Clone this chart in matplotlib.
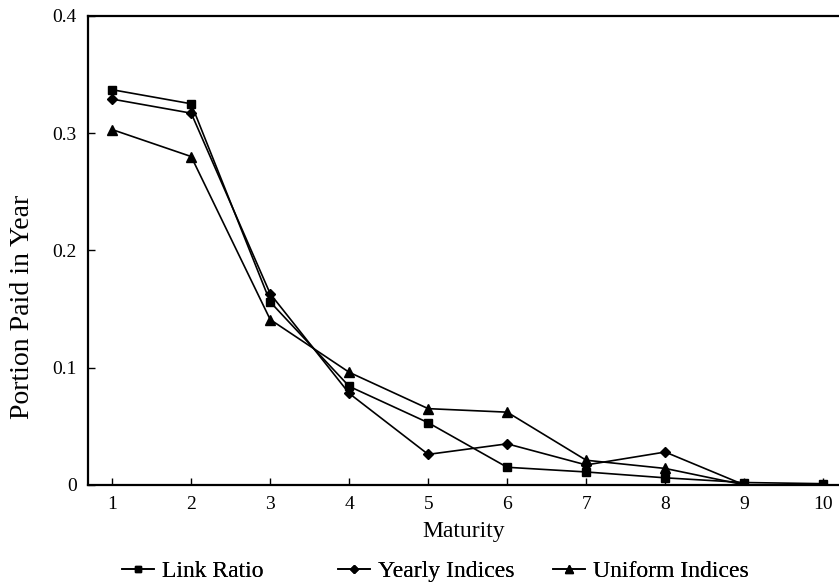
import numpy as np
import matplotlib
matplotlib.use("Agg")
import matplotlib.pyplot as plt

plt.rcParams['font.family'] = ['Liberation Serif', 'DejaVu Serif']

# madurez (anos)
maturity = [1, 2, 3, 4, 5, 6, 7, 8, 9, 10]

# porcion pagada en el ano
link_ratio = [0.337, 0.325, 0.156, 0.084, 0.053, 0.015, 0.011, 0.006, 0.002, 0.001]
yearly_idx = [0.329, 0.317, 0.163, 0.078, 0.026, 0.035, 0.017, 0.028, 0.000, 0.000]
uniform_idx = [0.303, 0.280, 0.141, 0.096, 0.065, 0.062, 0.021, 0.014, 0.000, 0.000]

yticks = [0, 0.1, 0.2, 0.3, 0.4]
ytick_labels = ['0', '0.1', '0.2', '0.3', '0.4']

fig = plt.figure(figsize=(8.39, 5.87), dpi=100)
ax = fig.add_axes([0.105, 0.174, 0.895, 0.799])

l1, = ax.plot(maturity, link_ratio, color='black', marker='s', markersize=6, linewidth=1.2, label='Link Ratio')
l2, = ax.plot(maturity, yearly_idx, color='black', marker='D', markersize=5, linewidth=1.2, label='Yearly Indices')
l3, = ax.plot(maturity, uniform_idx, color='black', marker='^', markersize=7, linewidth=1.2, label='Uniform Indices')

ax.set_xlim(0.695, 10.2)
ax.set_ylim(0, 0.4)
ax.set_xticks(maturity)
ax.set_yticks(yticks)
ax.set_yticklabels(ytick_labels)
ax.tick_params(direction='in', labelsize=14, length=5, width=1)
ax.tick_params(axis='x', pad=8)
ax.tick_params(axis='y', pad=8)

ax.spines['right'].set_visible(False)
for s in ['left', 'bottom', 'top']:
    ax.spines[s].set_linewidth(1.6)

ax.set_xlabel('Maturity', fontsize=17, labelpad=6)
ax.set_ylabel('Portion Paid in Year', fontsize=20)
ax.yaxis.set_label_coords(-0.071, 0.38)

# leyendas separadas, una por serie
xs_leg = [0.145, 0.403, 0.659]
for ln, xl in zip([l1, l2, l3], xs_leg):
    lg = fig.legend(handles=[ln], loc='center left', bbox_to_anchor=(xl, 0.027), frameon=False,
                    fontsize=17, handlelength=1.35, handletextpad=0.35, borderpad=0,
                    borderaxespad=0, markerscale=0.8)
    fig.add_artist(lg)

fig.savefig('out.png', dpi=100)
